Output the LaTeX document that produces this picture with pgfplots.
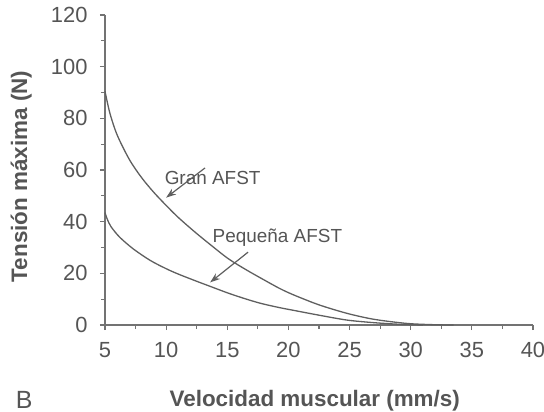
\documentclass[border=0pt]{standalone}
\usepackage{fontspec}
\setmainfont{Liberation Sans}
\usepackage{pgfplots}
\pgfplotsset{compat=1.18}
\usetikzlibrary{arrows.meta}

\definecolor{txtgray}{RGB}{85,85,85}
\definecolor{curvegray}{RGB}{95,95,95}
\definecolor{axisgray}{RGB}{115,115,115}

\begin{document}
\begin{tikzpicture}
\begin{axis}[
  width=428bp, height=310bp, scale only axis,
  xmin=5, xmax=40, ymin=0, ymax=120,
  enlargelimits=false,
  axis x line*=bottom, axis y line*=left,
  axis line style={-, axisgray, line width=1.5bp},
  xtick={5,10,...,40}, ytick={0,20,...,120},
  minor x tick num=1, minor y tick num=1,
  tick align=outside,
  major tick length=5bp, minor tick length=4bp,
  every tick/.style={axisgray, line width=1.2bp},
  /pgf/number format/assume math mode=true,
  tick label style={font=\fontsize{22}{26}\selectfont, text=txtgray},
  xticklabel style={yshift=-9bp},
  yticklabel style={xshift=-9bp},
  xlabel={Velocidad muscular (mm/s)},
  ylabel={Tensión máxima (N)},
  label style={font=\fontsize{22.5}{27}\selectfont\bfseries, text=txtgray},
  xlabel style={at={(axis description cs:0.49,-0.2645)}, anchor=base},
  ylabel style={at={(axis description cs:-0.196,0.479)}, anchor=center, rotate=0},
  clip=false,
]
% Gran AFST
\addplot[curvegray, line width=1.3bp, smooth] coordinates {
  (5,90.5) (5.4,82) (6,73.5) (7,64) (8,57) (9,51.3) (10,46.3) (11,41.6)
  (12.4,35.8) (13.8,30.4) (15.1,25.6) (16.5,21.5) (17.8,18) (19.3,14.1)
  (20.5,11.5) (22.5,7.8) (24.8,4.5) (27,2.2) (29.7,0.6) (32,0.1) (33.5,0)
};
% Pequena AFST
\addplot[curvegray, line width=1.3bp, smooth] coordinates {
  (5,43.5) (5.2,40.8) (5.5,38) (6.2,34) (7.3,29.5) (8.7,25) (10,21.8) (11,19.7)
  (12.4,17.1) (13.8,14.6) (15.1,12.3) (16.5,10.1) (17.8,8.3) (19.3,6.7)
  (20.5,5.6) (22.5,3.8) (24.8,1.9) (27,0.9) (29,0.3) (31,0)
};
\node[text=txtgray, font=\fontsize{19}{23}\selectfont] at (axis cs:13.8,56.9) {Gran AFST};
\node[text=txtgray, font=\fontsize{19}{23}\selectfont] at (axis cs:19.1,33.8) {Pequeña AFST};
\draw[curvegray, line width=1.2bp, -{Stealth[length=10bp,width=7bp]}]
  (axis cs:13.18,60.8) -- (axis cs:10.0,49.3);
\draw[curvegray, line width=1.2bp, -{Stealth[length=10bp,width=7bp]}]
  (axis cs:16.7,28.2) -- (axis cs:13.6,16.5);
\node[text=txtgray, font=\fontsize{25}{30}\selectfont, anchor=base]
  at (axis description cs:-0.189,-0.268) {B};
\end{axis}
\pgfresetboundingbox
\path[use as bounding box] ([xshift=-105bp,yshift=-87bp]current axis.south west)
  rectangle ([xshift=11bp,yshift=15bp]current axis.north east);
\end{tikzpicture}
\end{document}
